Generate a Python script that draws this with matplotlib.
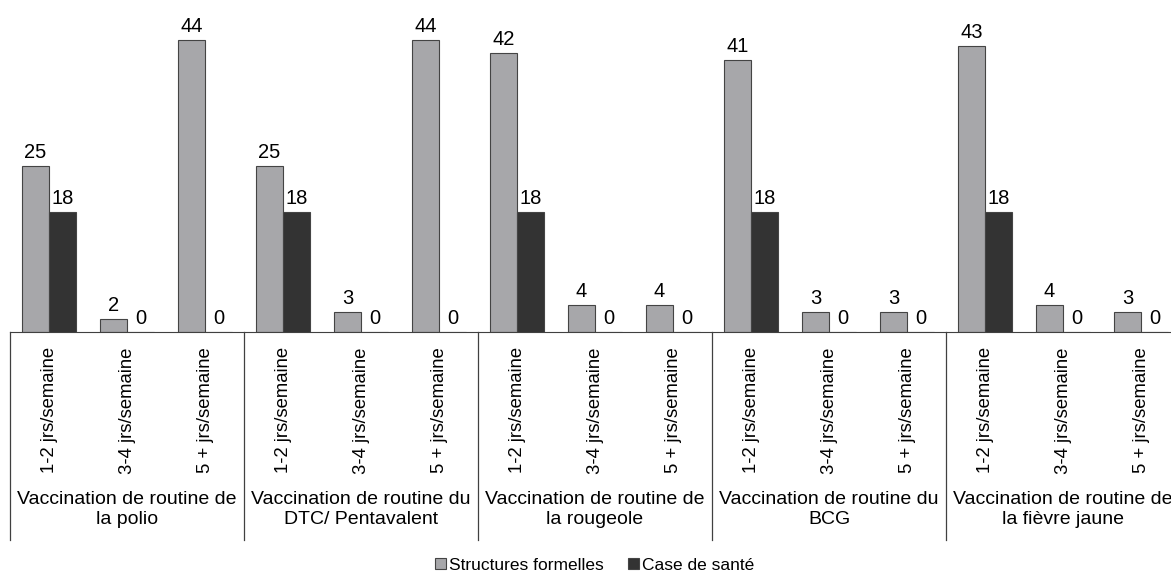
import matplotlib
matplotlib.use("Agg")
import matplotlib.pyplot as plt
import numpy as np

plt.rcParams['font.family'] = ['Liberation Sans', 'DejaVu Sans']

# data
groups = ["Vaccination de routine de\nla polio",
          "Vaccination de routine du\nDTC/ Pentavalent",
          "Vaccination de routine de\nla rougeole",
          "Vaccination de routine du\nBCG",
          "Vaccination de routine de\nla fièvre jaune"]
freqs = ["1-2 jrs/semaine", "3-4 jrs/semaine", "5 + jrs/semaine"]
structures = [25, 2, 44, 25, 3, 44, 42, 4, 4, 41, 3, 3, 43, 4, 3]
cases = [18, 0, 0, 18, 0, 0, 18, 0, 0, 18, 0, 0, 18, 0, 0]

gray = '#a7a7aa'
dark = '#333333'
edge = '#444444'

fig = plt.figure(figsize=(11.71, 5.71), dpi=100)
# axes runs a bit past the right edge like the original
ax = fig.add_axes([10 / 1171, 239 / 571, 1170 / 1171, 332 / 571])

x = np.arange(len(structures))
w = 0.35
b1 = ax.bar(x - w / 2, structures, w, color=gray, edgecolor=edge, linewidth=0.8,
            label="Structures formelles")
b2 = ax.bar(x + w / 2, cases, w, color=dark, edgecolor=edge, linewidth=0.8,
            label="Case de santé")
ax.bar_label(b1, padding=3, fontsize=14.5)
ax.bar_label(b2, padding=3, fontsize=14.5)

ax.set_xlim(-0.5, len(structures) - 0.5)
ax.set_ylim(0, 50)
ax.set_yticks([])
for s in ['left', 'right', 'top']:
    ax.spines[s].set_visible(False)
ax.spines['bottom'].set_color('#404040')

ax.set_xticks(x)
ax.set_xticklabels(freqs * len(groups), rotation=90, fontsize=13.3)
ax.tick_params(axis='x', length=0, pad=11)

# group separators and labels
trans = ax.get_xaxis_transform()
for i in range(len(groups) + 1):
    xs = i * 3 - 0.5
    ax.plot([xs, xs], [0, -0.627], transform=trans, color='#404040',
            linewidth=0.9, clip_on=False)
for i, g in enumerate(groups):
    ax.text(i * 3 + 1, -0.478, g, transform=trans, ha='center', va='top',
            fontsize=14, linespacing=1.25)

fig.legend(loc='lower center', bbox_to_anchor=(0.508, -0.03), ncol=2,
           frameon=False, fontsize=12.5, handlelength=0.6, handleheight=0.6,
           handletextpad=0.2, columnspacing=1.4)

fig.savefig("out.png", dpi=100)
